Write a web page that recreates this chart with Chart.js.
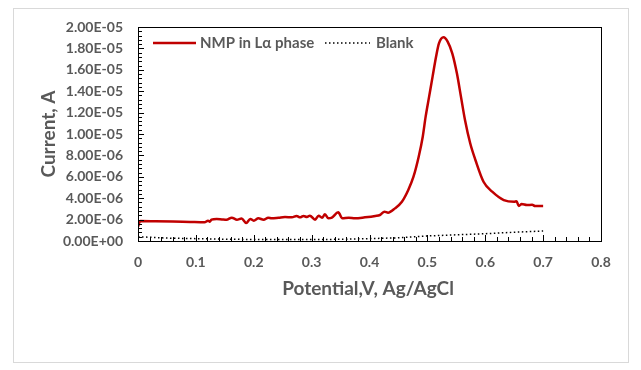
<!DOCTYPE html>
<html>
<head>
<meta charset="utf-8">
<script src="https://cdn.jsdelivr.net/npm/chart.js@4.4.1/dist/chart.umd.min.js"></script>
<style>
html,body{margin:0;padding:0;background:#fff;}
#wrap{width:641px;height:370px;position:relative;}
</style>
</head>
<body>
<div id="wrap"><canvas id="c" width="641" height="370"></canvas></div>
<script>
// ---- data ----
const nmpPotential = [0,0.004,0.03,0.06,0.09,0.115,0.121,0.124,0.127,0.136,0.145,0.153,0.162,0.171,0.179,0.187,0.194,0.200,0.208,0.217,0.225,0.231,0.243,0.254,0.266,0.274,0.280,0.286,0.292,0.297,0.306,0.312,0.318,0.323,0.329,0.335,0.346,0.353,0.364,0.375,0.392,0.410,0.418,0.426,0.432,0.444,0.456,0.467,0.476,0.485,0.492,0.497,0.503,0.509,0.515,0.520,0.528,0.535,0.543,0.551,0.558,0.565,0.574,0.583,0.597,0.612,0.632,0.650,0.654,0.658,0.663,0.672,0.681,0.686,0.700];
const nmpCurrentMicro = [1.35,1.87,1.85,1.82,1.78,1.75,1.90,1.80,1.99,2.06,2.02,1.99,2.18,1.99,2.10,1.68,2.06,1.90,2.12,1.99,2.18,2.12,2.18,2.24,2.21,2.34,2.21,2.34,2.24,2.37,1.99,2.37,2.18,2.49,2.12,2.18,2.68,2.12,2.18,2.12,2.21,2.34,2.43,2.74,2.65,3.05,3.67,4.77,6.01,7.88,9.75,11.62,13.49,15.36,17.22,18.47,19.04,18.63,17.54,15.67,13.49,11.31,9.13,7.57,5.54,4.61,3.83,3.67,3.72,3.27,3.46,3.36,3.39,3.27,3.27];
const blankPotential = [0,0.02,0.05,0.1,0.15,0.2,0.25,0.3,0.35,0.4,0.45,0.5,0.55,0.6,0.65,0.7];
const blankCurrentMicro = [0.4,0.35,0.27,0.22,0.17,0.14,0.13,0.13,0.16,0.22,0.3,0.47,0.58,0.68,0.82,0.93];
const seriesNames = ["NMP in L\u03b1 phase", "Blank"];
const xTitle = "Potential,V, Ag/AgCl";
const yTitle = "Current, A";
const xMin = 0, xMax = 0.8, xStep = 0.1, xMinorStep = 0.02;
const yMin = 0, yMax = 2e-5, yStep = 2e-6, yMinorStep = 4e-7;

const FONT = "Lato, 'Open Sans', sans-serif";
const GREY = "#595959";

function fmtExp(v){
  let s = Number(v).toExponential(2).toUpperCase();
  return s.replace(/E([+-])(\d+)$/, (m, sg, d) => 'E' + sg + (d.length < 2 ? '0' + d : d));
}

const nmpData = nmpPotential.map((x,i)=>({x:x, y:nmpCurrentMicro[i]*1e-6}));
const blankData = blankPotential.map((x,i)=>({x:x, y:blankCurrentMicro[i]*1e-6}));

const decor = {
  id:'decor',
  beforeDraw(chart){
    const ctx = chart.ctx;
    ctx.save();
    ctx.fillStyle = '#fff';
    ctx.fillRect(0,0,chart.width,chart.height);
    ctx.strokeStyle = '#d9d9d9';
    ctx.lineWidth = 1;
    ctx.strokeRect(13.5, 8.5, 615, 354);
    ctx.restore();
  },
  afterDraw(chart){
    const ctx = chart.ctx;
    const a = chart.chartArea;
    const xs = chart.scales.x, ys = chart.scales.y;
    ctx.save();
    ctx.strokeStyle = '#000';
    ctx.lineWidth = 1;
    ctx.beginPath();
    const nyMinor = Math.round((yMax - yMin)/yMinorStep);
    for(let i=0;i<=nyMinor;i++){
      const v = yMin + i*yMinorStep;
      const py = Math.round(ys.getPixelForValue(v)) + 0.5;
      const major = (i % Math.round(yStep/yMinorStep)) === 0;
      ctx.moveTo(a.left, py);
      ctx.lineTo(a.left + (major ? 6 : 4), py);
    }
    const nxMinor = Math.round((xMax - xMin)/xMinorStep);
    for(let i=0;i<=nxMinor;i++){
      const v = xMin + i*xMinorStep;
      const px = Math.round(xs.getPixelForValue(v)) + 0.5;
      const major = (i % Math.round(xStep/xMinorStep)) === 0;
      ctx.moveTo(px, a.bottom);
      ctx.lineTo(px, a.bottom - (major ? 6 : 4));
    }
    ctx.stroke();
    ctx.strokeRect(Math.round(a.left)+0.5, Math.round(a.top)+0.5, Math.round(a.right-a.left), Math.round(a.bottom-a.top));
    // axis titles
    ctx.fillStyle = GREY;
    ctx.font = "bold 19px " + FONT;
    ctx.textAlign = 'center';
    ctx.textBaseline = 'middle';
    ctx.fillText(xTitle, 368, 289);
    ctx.translate(49, 134);
    ctx.rotate(-Math.PI/2);
    ctx.fillText(yTitle, 0, 0);
    ctx.setTransform(1,0,0,1,0,0);
    // legend
    const ly = 43;
    ctx.lineWidth = 2.5;
    ctx.strokeStyle = '#c00000';
    ctx.beginPath(); ctx.moveTo(153, ly); ctx.lineTo(196, ly); ctx.stroke();
    ctx.lineWidth = 1.5;
    ctx.strokeStyle = '#000';
    ctx.setLineDash([1.5,2.5]);
    ctx.beginPath(); ctx.moveTo(325, ly); ctx.lineTo(370, ly); ctx.stroke();
    ctx.setLineDash([]);
    ctx.font = "bold 15px " + FONT;
    ctx.textAlign = 'left';
    ctx.fillStyle = GREY;
    ctx.fillText(seriesNames[0], 200, ly);
    ctx.fillText(seriesNames[1], 376, ly);
    ctx.restore();
  }
};

new Chart(document.getElementById('c'), {
  type:'scatter',
  data:{
    datasets:[
      {label:seriesNames[0], data:nmpData, showLine:true, borderColor:'#c00000', borderWidth:2.5, pointRadius:0, cubicInterpolationMode:'monotone', fill:false},
      {label:seriesNames[1], data:blankData, showLine:true, borderColor:'#000', borderWidth:1.5, borderDash:[1.5,2.5], pointRadius:0, fill:false}
    ]
  },
  options:{
    responsive:false,
    animation:false,
    devicePixelRatio:1,
    layout:{padding:{top:27,right:40,left:0,bottom:0}},
    plugins:{legend:{display:false}, tooltip:{enabled:false}},
    scales:{
      x:{
        type:'linear', min:xMin, max:xMax,
        grid:{display:false, drawTicks:false},
        border:{display:false},
        ticks:{stepSize:xStep, padding:13, color:GREY, font:{family:FONT, size:14, weight:'bold'},
          callback:(v)=> (Math.round(v*10)/10).toString(), maxRotation:0},
        afterFit(s){ s.height = 129; }
      },
      y:{
        type:'linear', min:yMin, max:yMax,
        grid:{display:false, drawTicks:false},
        border:{display:false},
        ticks:{stepSize:yStep, padding:15, color:GREY, font:{family:FONT, size:14, weight:'bold'},
          callback:(v)=> fmtExp(v)},
        afterFit(s){ s.width = 138; }
      }
    }
  },
  plugins:[decor]
});
</script>
</body>
</html>
